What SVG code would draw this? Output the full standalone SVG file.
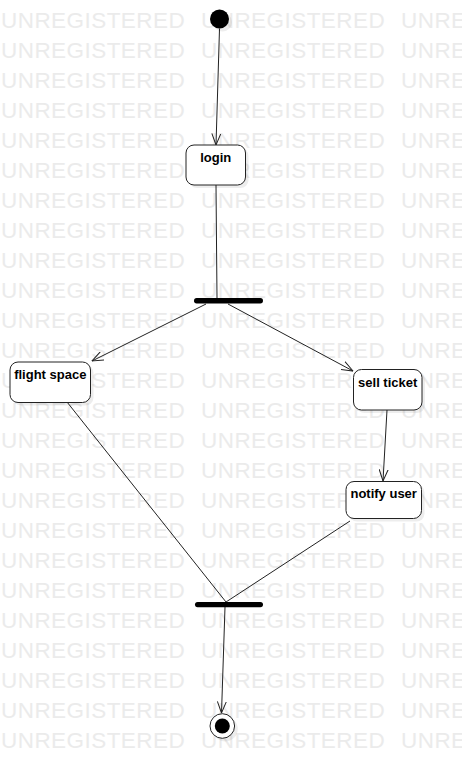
<svg xmlns="http://www.w3.org/2000/svg" width="462" height="779" viewBox="0 0 462 779">
<defs>
<style>
.wm{font-family:"Liberation Sans",Arial,sans-serif;font-size:22.5px;fill:#ebebeb;letter-spacing:0.45px}
.box{fill:#fff;stroke:#222;stroke-width:1}
.shadow{fill:#000;opacity:0.07}
.lbl{font-family:"Liberation Sans",Arial,sans-serif;font-size:13px;font-weight:bold;fill:#000;text-anchor:middle}
.edge{stroke:#222;stroke-width:1;fill:none}
.bar{fill:#000}
</style>
<marker id="arr" viewBox="0 0 12 10" refX="11.5" refY="5" markerWidth="12" markerHeight="10" markerUnits="userSpaceOnUse" orient="auto">
<path d="M0,0.5 L11.5,5 L0,9.5" fill="none" stroke="#222" stroke-width="1"/>
</marker>
</defs>
<rect width="462" height="779" fill="#fff"/>
<g id="watermark" class="wm">
<text y="28"><tspan x="1">UNREGISTERED</tspan><tspan x="201">UNREGISTERED</tspan><tspan x="401">UNREGISTERED</tspan></text>
<text y="58"><tspan x="1">UNREGISTERED</tspan><tspan x="201">UNREGISTERED</tspan><tspan x="401">UNREGISTERED</tspan></text>
<text y="88"><tspan x="1">UNREGISTERED</tspan><tspan x="201">UNREGISTERED</tspan><tspan x="401">UNREGISTERED</tspan></text>
<text y="118"><tspan x="1">UNREGISTERED</tspan><tspan x="201">UNREGISTERED</tspan><tspan x="401">UNREGISTERED</tspan></text>
<text y="148"><tspan x="1">UNREGISTERED</tspan><tspan x="201">UNREGISTERED</tspan><tspan x="401">UNREGISTERED</tspan></text>
<text y="178"><tspan x="1">UNREGISTERED</tspan><tspan x="201">UNREGISTERED</tspan><tspan x="401">UNREGISTERED</tspan></text>
<text y="208"><tspan x="1">UNREGISTERED</tspan><tspan x="201">UNREGISTERED</tspan><tspan x="401">UNREGISTERED</tspan></text>
<text y="238"><tspan x="1">UNREGISTERED</tspan><tspan x="201">UNREGISTERED</tspan><tspan x="401">UNREGISTERED</tspan></text>
<text y="268"><tspan x="1">UNREGISTERED</tspan><tspan x="201">UNREGISTERED</tspan><tspan x="401">UNREGISTERED</tspan></text>
<text y="298"><tspan x="1">UNREGISTERED</tspan><tspan x="201">UNREGISTERED</tspan><tspan x="401">UNREGISTERED</tspan></text>
<text y="328"><tspan x="1">UNREGISTERED</tspan><tspan x="201">UNREGISTERED</tspan><tspan x="401">UNREGISTERED</tspan></text>
<text y="358"><tspan x="1">UNREGISTERED</tspan><tspan x="201">UNREGISTERED</tspan><tspan x="401">UNREGISTERED</tspan></text>
<text y="388"><tspan x="1">UNREGISTERED</tspan><tspan x="201">UNREGISTERED</tspan><tspan x="401">UNREGISTERED</tspan></text>
<text y="418"><tspan x="1">UNREGISTERED</tspan><tspan x="201">UNREGISTERED</tspan><tspan x="401">UNREGISTERED</tspan></text>
<text y="448"><tspan x="1">UNREGISTERED</tspan><tspan x="201">UNREGISTERED</tspan><tspan x="401">UNREGISTERED</tspan></text>
<text y="478"><tspan x="1">UNREGISTERED</tspan><tspan x="201">UNREGISTERED</tspan><tspan x="401">UNREGISTERED</tspan></text>
<text y="508"><tspan x="1">UNREGISTERED</tspan><tspan x="201">UNREGISTERED</tspan><tspan x="401">UNREGISTERED</tspan></text>
<text y="538"><tspan x="1">UNREGISTERED</tspan><tspan x="201">UNREGISTERED</tspan><tspan x="401">UNREGISTERED</tspan></text>
<text y="568"><tspan x="1">UNREGISTERED</tspan><tspan x="201">UNREGISTERED</tspan><tspan x="401">UNREGISTERED</tspan></text>
<text y="598"><tspan x="1">UNREGISTERED</tspan><tspan x="201">UNREGISTERED</tspan><tspan x="401">UNREGISTERED</tspan></text>
<text y="628"><tspan x="1">UNREGISTERED</tspan><tspan x="201">UNREGISTERED</tspan><tspan x="401">UNREGISTERED</tspan></text>
<text y="658"><tspan x="1">UNREGISTERED</tspan><tspan x="201">UNREGISTERED</tspan><tspan x="401">UNREGISTERED</tspan></text>
<text y="688"><tspan x="1">UNREGISTERED</tspan><tspan x="201">UNREGISTERED</tspan><tspan x="401">UNREGISTERED</tspan></text>
<text y="718"><tspan x="1">UNREGISTERED</tspan><tspan x="201">UNREGISTERED</tspan><tspan x="401">UNREGISTERED</tspan></text>
<text y="748"><tspan x="1">UNREGISTERED</tspan><tspan x="201">UNREGISTERED</tspan><tspan x="401">UNREGISTERED</tspan></text>
</g>
<g id="connectors">
<line class="edge" x1="219.5" y1="28.5" x2="216" y2="145" marker-end="url(#arr)"/>
<line class="edge" x1="216" y1="185" x2="217" y2="298"/>
<line class="edge" x1="206" y1="304" x2="92" y2="361" marker-end="url(#arr)"/>
<line class="edge" x1="228" y1="304" x2="353" y2="371" marker-end="url(#arr)"/>
<line class="edge" x1="67" y1="402" x2="226" y2="602"/>
<line class="edge" x1="387" y1="410" x2="383" y2="481" marker-end="url(#arr)"/>
<line class="edge" x1="350" y1="521" x2="226" y2="602"/>
<line class="edge" x1="225" y1="607" x2="221.5" y2="713" marker-end="url(#arr)"/>
</g>
<g id="start">
<circle class="shadow" cx="222.5" cy="22" r="9.5"/>
<circle cx="219.5" cy="19" r="9.5" fill="#000"/>
</g>
<g id="login">
<rect class="shadow" x="189" y="148" width="59.5" height="40" rx="8"/>
<rect class="box" x="186" y="145" width="59.5" height="40" rx="8"/>
<text class="lbl" x="215.7" y="162">login</text>
</g>
<g id="fork">
<rect class="bar" x="194" y="298" width="69" height="5.5" rx="2.7"/>
</g>
<g id="flight-space">
<rect class="shadow" x="13" y="365" width="80.5" height="40.5" rx="8"/>
<rect class="box" x="10" y="362" width="80.5" height="40.5" rx="8"/>
<text class="lbl" x="50.3" y="379">flight space</text>
</g>
<g id="sell-ticket">
<rect class="shadow" x="356.5" y="372.5" width="68.5" height="40.5" rx="8"/>
<rect class="box" x="353.5" y="369.5" width="68.5" height="40.5" rx="8"/>
<text class="lbl" x="387.7" y="387">sell ticket</text>
</g>
<g id="notify-user">
<rect class="shadow" x="349" y="484.5" width="75.5" height="37" rx="8"/>
<rect class="box" x="346" y="481.5" width="75.5" height="37" rx="8"/>
<text class="lbl" x="383.7" y="498">notify user</text>
</g>
<g id="join">
<rect class="bar" x="195" y="602" width="68" height="5.2" rx="2.6"/>
</g>
<g id="end">
<circle class="shadow" cx="225.3" cy="729" r="12.5"/>
<circle cx="222.3" cy="726" r="12.3" fill="#fff" stroke="#222" stroke-width="1"/>
<circle cx="222.3" cy="726" r="7.5" fill="#000"/>
</g>
</svg>
